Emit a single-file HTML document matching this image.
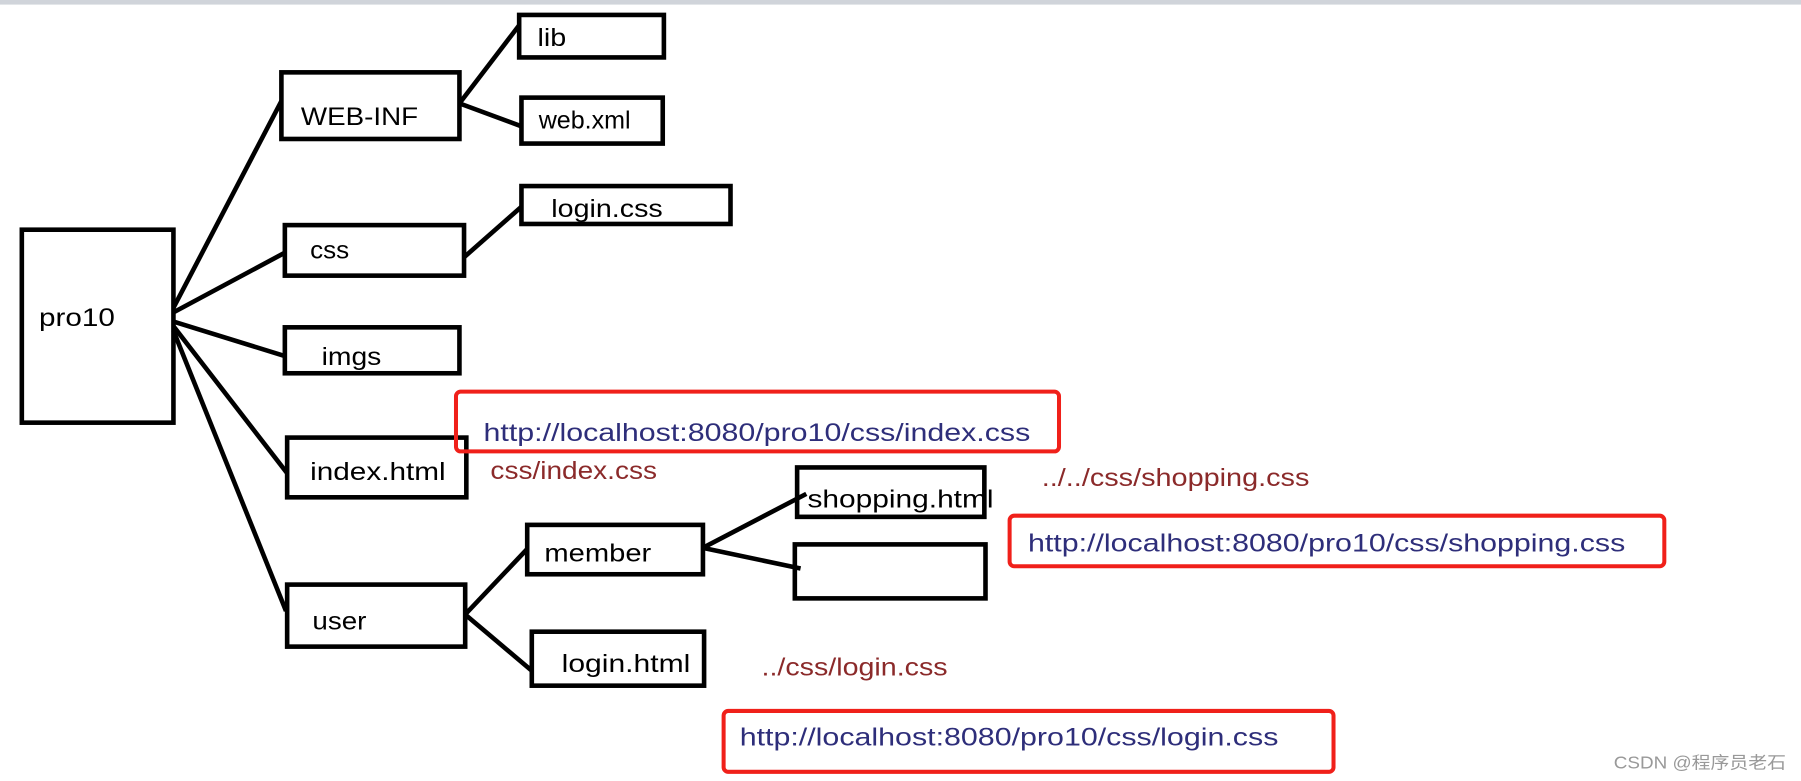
<!DOCTYPE html>
<html><head><meta charset="utf-8"><style>
html,body{margin:0;padding:0;background:#fff;}
svg{display:block;}
text{font-family:"Liberation Sans","Noto Sans CJK SC",sans-serif;}
</style></head><body>
<svg width="1801" height="781" viewBox="0 0 1568 680" preserveAspectRatio="none" xmlns="http://www.w3.org/2000/svg">
<rect x="0" y="0" width="1568" height="4" fill="#d0d4da"/>
<g fill="none" stroke="#000" stroke-width="4">
<rect x="19" y="200" width="132" height="168"/>
<rect x="245" y="63" width="155" height="58"/>
<rect x="452" y="13" width="126" height="37"/>
<rect x="454" y="85" width="123" height="40"/>
<rect x="248" y="196" width="156" height="44"/>
<rect x="454" y="162" width="182" height="33"/>
<rect x="248" y="285" width="152" height="40"/>
<rect x="250" y="381" width="156" height="52"/>
<rect x="250" y="509" width="155" height="54"/>
<rect x="459" y="457" width="153" height="43"/>
<rect x="463" y="550" width="150" height="47"/>
<rect x="694" y="407" width="163" height="43"/>
<rect x="692" y="474" width="166" height="47"/>
<line x1="151" y1="268" x2="245" y2="88"/>
<line x1="151" y1="272" x2="248" y2="220"/>
<line x1="151" y1="280" x2="248" y2="310"/>
<line x1="151" y1="284" x2="250" y2="412"/>
<line x1="151" y1="288" x2="249" y2="532"/>
<line x1="400" y1="90" x2="452" y2="22"/>
<line x1="400" y1="90" x2="454" y2="110"/>
<line x1="404" y1="224" x2="454" y2="180"/>
<line x1="405" y1="535" x2="459" y2="478"/>
<line x1="405" y1="535" x2="463" y2="584"/>
<line x1="612" y1="477" x2="702" y2="430"/>
<line x1="612" y1="477" x2="697" y2="495"/>
</g>
<g fill="none" stroke="#f0201a" stroke-width="3.5">
<rect x="397" y="341" width="525" height="52" rx="4"/>
<rect x="879" y="449" width="570" height="44" rx="4"/>
<rect x="630" y="619" width="531" height="53" rx="4"/>
</g>
<g font-size="22" fill="#000" lengthAdjust="spacingAndGlyphs">
<text x="34" y="284" textLength="66" lengthAdjust="spacingAndGlyphs">pro10</text>
<text x="262" y="109" textLength="102" lengthAdjust="spacingAndGlyphs">WEB-INF</text>
<text x="468" y="40" textLength="25" lengthAdjust="spacingAndGlyphs">lib</text>
<text x="469" y="112" textLength="80" lengthAdjust="spacingAndGlyphs">web.xml</text>
<text x="270" y="225" textLength="34" lengthAdjust="spacingAndGlyphs">css</text>
<text x="480" y="189" textLength="97" lengthAdjust="spacingAndGlyphs">login.css</text>
<text x="280" y="318" textLength="52" lengthAdjust="spacingAndGlyphs">imgs</text>
<text x="270" y="418" textLength="118" lengthAdjust="spacingAndGlyphs">index.html</text>
<text x="272" y="548" textLength="47" lengthAdjust="spacingAndGlyphs">user</text>
<text x="474" y="489" textLength="93" lengthAdjust="spacingAndGlyphs">member</text>
<text x="489" y="585" textLength="112" lengthAdjust="spacingAndGlyphs">login.html</text>
<text x="703" y="442" textLength="162" lengthAdjust="spacingAndGlyphs">shopping.html</text>
</g>
<g font-size="22" fill="#8b2a2a">
<text x="427" y="417" textLength="145" lengthAdjust="spacingAndGlyphs">css/index.css</text>
<text x="907" y="423" textLength="233" lengthAdjust="spacingAndGlyphs">../../css/shopping.css</text>
<text x="663" y="588" textLength="162" lengthAdjust="spacingAndGlyphs">../css/login.css</text>
</g>
<g font-size="22" fill="#2e2e7a">
<text x="421" y="384" textLength="476" lengthAdjust="spacingAndGlyphs">http://localhost:8080/pro10/css/index.css</text>
<text x="895" y="480" textLength="520" lengthAdjust="spacingAndGlyphs">http://localhost:8080/pro10/css/shopping.css</text>
<text x="644" y="649" textLength="469" lengthAdjust="spacingAndGlyphs">http://localhost:8080/pro10/css/login.css</text>
</g>
<text x="1405" y="669" font-size="15" fill="#999" textLength="150" lengthAdjust="spacingAndGlyphs">CSDN @程序员老石</text>
</svg>
</body></html>
